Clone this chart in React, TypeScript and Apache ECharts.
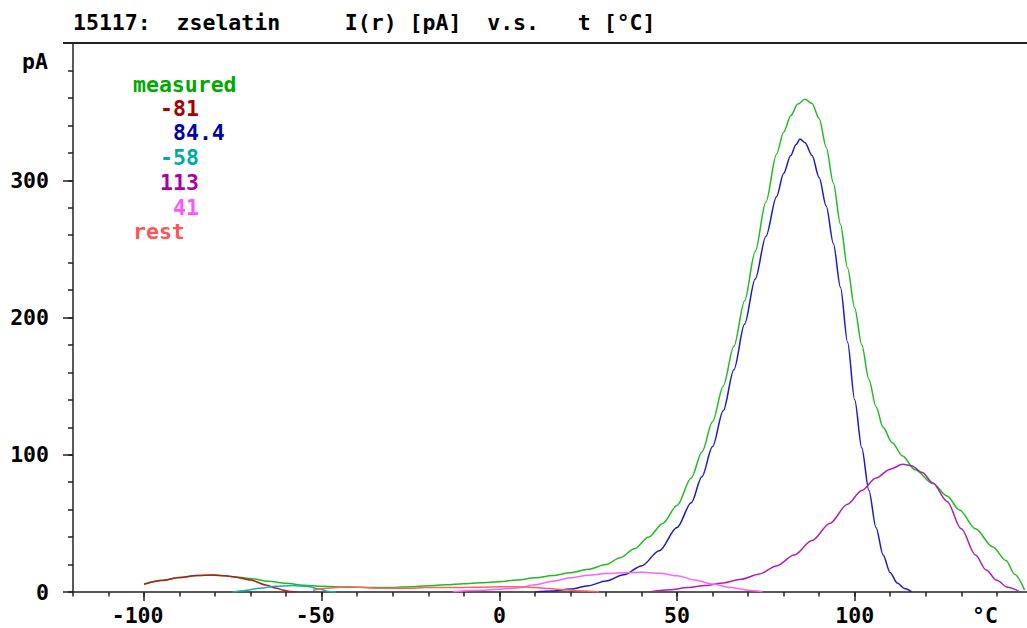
import React, { useEffect, useRef } from "react";
import * as echarts from "echarts";

const FONT = '"DejaVu Sans Mono", "Liberation Mono", monospace';

const titleText = "15117:  zselatin     I(r) [pA]  v.s.   t [°C]";
const yUnit = "pA";
const xUnit = "°C";

const xMajorTicks = [-100, -50, 0, 50, 100];
const xMinorTicks = [-120, -110, -100, -90, -80, -70, -60, -50, -40, -30, -20, -10, 0, 10, 20, 30, 40, 50, 60, 70, 80, 90, 100, 110, 120, 130, 140];
const yMajorTicks = [0, 100, 200, 300, 400];
const yLabelTicks = [0, 100, 200, 300];
const yMinorTicks = [0, 20, 40, 60, 80, 100, 120, 140, 160, 180, 200, 220, 240, 260, 280, 300, 320, 340, 360, 380, 400];

const seriesNames = ["measured", "-81", "84.4", "-58", "113", "41", "rest"];

const measured = [
  [-100, 5.6], [-95, 8.5], [-90, 10.5], [-85, 12], [-80, 12.3], [-75, 11.2], [-70, 9.8], [-65, 7.8],
  [-60, 6.3], [-55, 5], [-50, 4.2], [-45, 3.7], [-40, 3.4], [-35, 3.2], [-30, 3.3], [-25, 3.9],
  [-20, 4.6], [-15, 5.3], [-10, 6.1], [-5, 6.8], [0, 7.5], [5, 8.8], [10, 10.3], [15, 12], [20, 14],
  [25, 16.5], [30, 20], [34, 25], [38, 31.5], [42, 40], [46, 50], [50, 63], [54, 83], [57, 102],
  [60, 124], [63, 150], [66, 179], [69, 212], [72, 248], [75, 284], [78, 319], [80, 335], [82, 347],
  [84, 355.5], [86, 359], [88, 356], [90, 345], [92, 324], [94, 298], [96, 268], [98, 236], [100, 207],
  [102, 180], [104, 155], [106, 135], [108, 120], [110.5, 109], [113.5, 99], [117, 89], [122, 79],
  [126, 70], [129.5, 59.7], [134, 46], [138.8, 33], [142.6, 23], [145, 13], [147.8, 1.5],
];

const peakM81 = [
  [-100, 5.6], [-95, 8.3], [-90, 10.5], [-85, 12], [-81, 12.4], [-77, 11.8], [-75, 11.2], [-70, 8.7],
  [-65.7, 5.1], [-63, 3], [-61, 1.5], [-59, 0.3], [-57, 0],
];

const peak84 = [
  [10, 0], [15, 0.8], [20, 2.2], [25, 4.5], [30, 8], [35, 12.5], [40, 19], [45, 30], [50, 47],
  [54, 65], [57, 84], [60, 106], [63, 132], [66, 162], [69, 195], [72, 228], [75, 259], [78, 288],
  [80, 305], [82, 318], [83.5, 326], [84.6, 330], [86, 327.5], [88, 318], [90, 302], [92, 281],
  [94, 254], [96, 222], [98, 182], [100, 140], [102, 105], [104, 74], [106, 47], [108, 27], [110, 14],
  [112, 6.5], [114, 2.5], [116, 0.3],
];

const peakM58 = [
  [-75, 0], [-72, 1], [-67.5, 2.7], [-63, 4.2], [-58, 4.7], [-54, 4], [-50.7, 2.2], [-48, 0.3], [-46, 0],
];

const peak113 = [
  [43, 0.3], [48, 1.6], [53, 3.2], [58, 4.8], [63, 6.6], [68, 9.3], [73, 13], [78, 19], [83, 27],
  [88, 37.5], [93, 50], [98, 64], [102, 74], [106, 83], [110, 89.5], [113.5, 93], [116, 92], [119, 87],
  [122, 79.5], [126, 66], [130, 46], [134, 27], [137, 16], [140, 8.5], [143, 3.5], [146.4, 0.3],
];

const peak41 = [
  [-13, 0.2], [-5, 1.2], [0, 2], [5, 3], [10, 5.2], [15, 7.8], [20, 10.3], [25, 12.2], [30, 13.4],
  [35, 14.1], [40, 14.3], [45, 13.7], [50, 11.8], [55, 8.8], [60, 5.8], [65, 3.3], [70, 1.3], [74, 0.2],
];

const rest = [
  [-52.5, 1.2], [-48.7, 2.7], [-43, 3.9], [-39, 3.5], [-35, 2.8], [-30, 2.7], [-25, 2.8], [-21, 3.2],
  [-15, 3.2], [-10, 3.3], [-5, 3.5], [0, 3.9], [5, 3.9], [10, 3.3], [14, 2.5], [17, 1.9], [22, 1],
  [27, 0.3], [28, 0],
];

const seriesData = [measured, peakM81, peak84, peakM58, peak113, peak41, rest];
const lineColors = ["#22bb22", "#b01c1c", "#1c1cc0", "#11b0b0", "#b020b0", "#ff60ff", "#ff6060"];
const legendColors = ["#00a800", "#aa0000", "#0000aa", "#00aaaa", "#aa00aa", "#ff55ff", "#ff5555"];
const legendX = [133, 160, 173, 160, 160, 173, 133];
const legendY = [84, 108, 132, 157, 182, 207, 231];

const AXIS_COLOR = "#222";

export default function App() {
  const ref = useRef<HTMLDivElement>(null);
  useEffect(() => {
    if (!ref.current) return;
    const chart = echarts.init(ref.current, undefined, { renderer: "svg" });
    const textStyleBase = { fontFamily: FONT, fontSize: 21.5, fontWeight: "bold", fill: "#000" };
    const graphics: any[] = [
      {
        type: "line",
        shape: { x1: 63, y1: 43, x2: 1027, y2: 43 },
        style: { stroke: AXIS_COLOR, lineWidth: 2 },
        z: 10,
      },
      {
        type: "text",
        x: 73,
        y: 22,
        style: { ...textStyleBase, text: titleText, textAlign: "left", textVerticalAlign: "middle" },
      },
      {
        type: "text",
        x: 48,
        y: 61,
        style: { ...textStyleBase, text: yUnit, textAlign: "right", textVerticalAlign: "middle" },
      },
      {
        type: "text",
        x: 985,
        y: 615,
        style: { ...textStyleBase, text: xUnit, textAlign: "center", textVerticalAlign: "middle" },
      },
    ];
    seriesNames.forEach((n, i) => {
      graphics.push({
        type: "text",
        x: legendX[i],
        y: legendY[i],
        style: { ...textStyleBase, text: n, fill: legendColors[i], textAlign: "left", textVerticalAlign: "middle" },
      });
    });

    const tickLine = { color: AXIS_COLOR, width: 1.5 };
    const labelStyle = { color: "#000", fontFamily: FONT, fontSize: 21.5, fontWeight: "bold" };

    const option: any = {
      animation: false,
      backgroundColor: "#ffffff",
      grid: { left: 73, right: 0, top: 43, bottom: 36, containLabel: false },
      xAxis: [
        {
          type: "value",
          min: -120,
          max: 148.5,
          position: "bottom",
          axisLine: { show: true, onZero: false, lineStyle: { color: AXIS_COLOR, width: 1.5 } },
          axisTick: { show: true, customValues: xMajorTicks, length: 9, lineStyle: tickLine },
          axisLabel: {
            show: true,
            customValues: xMajorTicks,
            margin: 12,
            ...labelStyle,
            formatter: (v: number) => (v < 0 ? `${v}\u00a0` : `${v}`),
          },
          splitLine: { show: false },
        },
        {
          type: "value",
          min: -120,
          max: 148.5,
          position: "bottom",
          axisLine: { show: false, onZero: false },
          axisTick: { show: true, customValues: xMinorTicks, length: 4.5, lineStyle: tickLine },
          axisLabel: { show: false },
          splitLine: { show: false },
        },
      ],
      yAxis: [
        {
          type: "value",
          min: 0,
          max: 400,
          position: "left",
          axisLine: { show: true, onZero: false, lineStyle: { color: AXIS_COLOR, width: 1.5 } },
          axisTick: { show: true, customValues: yMajorTicks, length: 10, lineStyle: tickLine },
          axisLabel: { show: true, customValues: yLabelTicks, margin: 24, ...labelStyle },
          splitLine: { show: false },
        },
        {
          type: "value",
          min: 0,
          max: 400,
          position: "left",
          axisLine: { show: false, onZero: false },
          axisTick: { show: true, customValues: yMinorTicks, length: 5, lineStyle: tickLine },
          axisLabel: { show: false },
          splitLine: { show: false },
        },
      ],
      series: seriesNames.map((n, i) => ({
        name: n,
        type: "line",
        xAxisIndex: 0,
        yAxisIndex: 0,
        data: seriesData[i],
        showSymbol: false,
        symbol: "none",
        smooth: 0.3,
        smoothMonotone: "x",
        lineStyle: { color: lineColors[i], width: 1.5 },
        itemStyle: { color: lineColors[i] },
        z: 2 + i,
      })),
      graphic: graphics,
    };
    chart.setOption(option);
    return () => chart.dispose();
  }, []);
  return (
    <div
      ref={ref}
      style={{ position: "fixed", left: 0, top: 0, width: 1027, height: 628, background: "#fff" }}
    />
  );
}
